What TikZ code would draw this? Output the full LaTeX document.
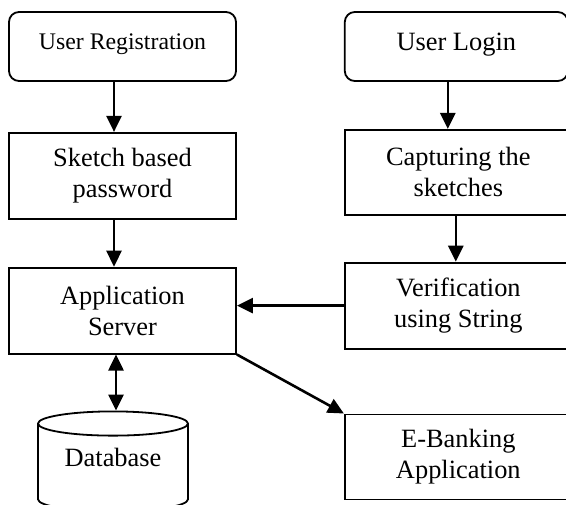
\documentclass[tikz,border=0pt]{standalone}
\usepackage{fontspec}
\setmainfont{Liberation Serif}
\usetikzlibrary{arrows.meta, positioning, shapes.geometric}
\tikzset{
  box/.style={
    rectangle, draw=black, line width=0.9pt, minimum width=113.5pt,
    minimum height=43pt, align=center, text centered,
    font=\fontsize{13.2}{15.5}\selectfont
  },
  startbox/.style={
    box, rounded corners=5pt, minimum height=34.5pt, text depth=0.45em
  },
  dbase/.style={
    cylinder, shape border rotate=90, draw=black, line width=0.9pt,
    aspect=0.22, minimum width=75pt, minimum height=50pt, text depth=13pt,
    font=\fontsize{13.2}{15.5}\selectfont
  },
  arrow/.style={
    -{Triangle[length=8pt,width=7.5pt]}, line width=1.3pt
  },
  darrow/.style={
    {Triangle[length=8pt,width=7.5pt]}-{Triangle[length=8pt,width=7.5pt]}, line width=1.3pt
  }
}
\begin{document}
\begin{tikzpicture}[node distance=25pt]
\useasboundingbox (0,0) rectangle (283pt,-252pt);

% registration side
\node[startbox, font=\fontsize{11.9}{14}\selectfont] (reg) at (61.25pt,-23.25pt) {User Registration};
\node[box, below=25pt of reg] (sketch) {Sketch based\\password};
\node[box, below=23.5pt of sketch] (appserver) {Application\\Server};
\node[dbase, below=28pt of appserver, xshift=-4.75pt] (db) {Database};

% login side
\node[startbox, minimum width=111.5pt, right=53.5pt of reg] (login) {User Login};
\node[box, minimum height=42.5pt, below=23.5pt of login.south west, anchor=north west] (capture) {Capturing the\\sketches};
\node[box, below=23pt of capture] (verify) {Verification\\using String};
\node[box, minimum height=42.5pt, below=32pt of verify] (ebank) {E-Banking\\Application};

% connectors
\draw[arrow] ([xshift=-4.25pt]reg.south) -- ([xshift=-4.25pt]reg.south |- sketch.north);
\draw[arrow] ([xshift=-4.25pt]sketch.south) -- ([xshift=-4.25pt]sketch.south |- appserver.north);
\draw[darrow] ([xshift=-3.25pt]appserver.south) -- ([xshift=-3.25pt]appserver.south |- db.north);
\draw[arrow] ([xshift=-4.25pt]login.south) -- ([xshift=-4.25pt]login.south |- capture.north);
\draw[arrow] ([xshift=-1.25pt]capture.south) -- ([xshift=-1.25pt]capture.south |- verify.north);
\draw[arrow] (verify.west) -- (verify.west -| appserver.east);
\draw[arrow] (appserver.south east) -- (ebank.north west);
\end{tikzpicture}
\end{document}
